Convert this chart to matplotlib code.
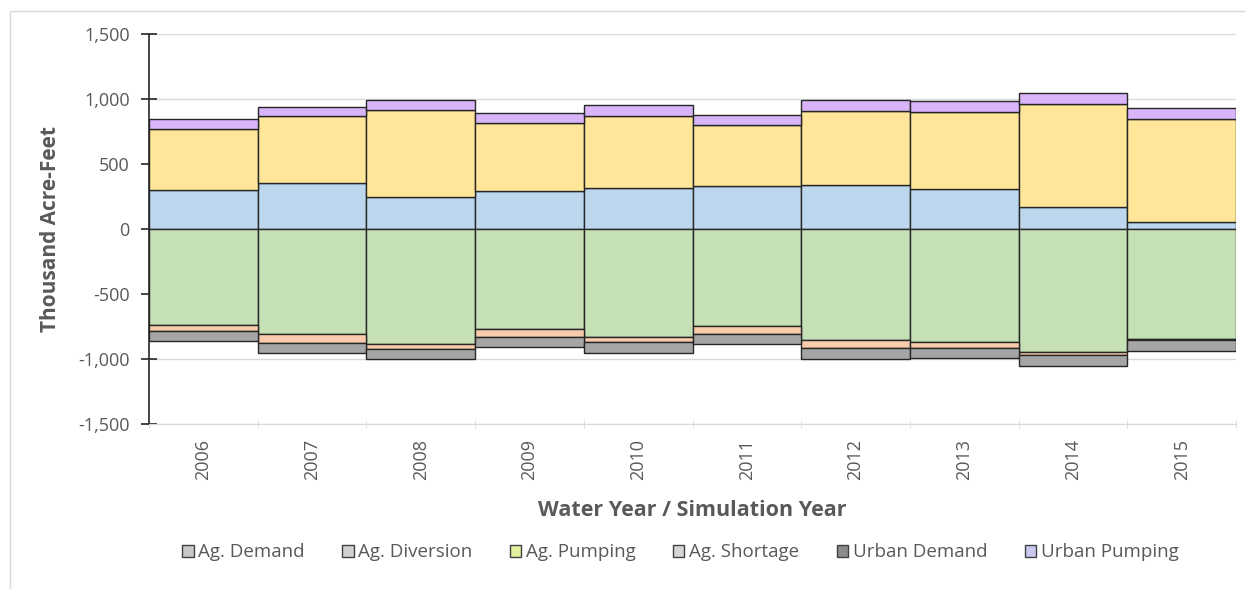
import numpy as np
import matplotlib.pyplot as plt
from matplotlib.patches import Patch, Rectangle
from matplotlib.ticker import FuncFormatter, MultipleLocator

plt.rcParams['font.family'] = ['Open Sans', 'DejaVu Sans']

years = ['2006', '2007', '2008', '2009', '2010', '2011', '2012', '2013', '2014', '2015']

# supply side (thousand acre-feet)
ag_diversion = np.array([302, 356, 246, 293, 315, 333, 336, 308, 167, 52])
ag_pumping = np.array([469, 511, 669, 525, 552, 467, 574, 592, 797, 799])
urban_pumping = np.array([75, 76, 77, 78, 87, 77, 85, 84, 84, 82])

# demand side, drawn below zero
ag_demand = np.array([736, 805, 887, 767, 831, 743, 856, 869, 949, 846])
ag_shortage = np.array([46, 72, 38, 61, 41, 62, 62, 47, 20, 6])
urban_demand = np.array([82, 74, 77, 77, 84, 82, 84, 78, 87, 88])

c_demand = '#c5e0b4'
c_diversion = '#bdd7ee'
c_pumping = '#ffe699'
c_shortage = '#f8cbad'
c_urban_demand = '#a5a5a5'
c_urban_pumping = '#d8b4f8'
edge = '#262626'
text_grey = '#595959'

fig = plt.figure(figsize=(12.46, 5.89), dpi=100)
ax = fig.add_axes([0.1196, 0.280, 0.8724, 0.662])

x = np.arange(len(years))
kw = dict(width=1.0, edgecolor=edge, linewidth=1.0, zorder=3)

ax.bar(x, ag_diversion, color=c_diversion, **kw)
ax.bar(x, ag_pumping, bottom=ag_diversion, color=c_pumping, **kw)
ax.bar(x, urban_pumping, bottom=ag_diversion + ag_pumping, color=c_urban_pumping, **kw)

ax.bar(x, -ag_demand, color=c_demand, **kw)
ax.bar(x, -ag_shortage, bottom=-ag_demand, color=c_shortage, **kw)
ax.bar(x, -urban_demand, bottom=-(ag_demand + ag_shortage), color=c_urban_demand, **kw)

ax.set_xlim(-0.5, len(years) - 0.5)
ax.set_ylim(-1500, 1500)
ax.yaxis.set_major_locator(MultipleLocator(500))
ax.yaxis.set_major_formatter(FuncFormatter(lambda v, p: f'{v:,.0f}'))
ax.grid(axis='y', color='#d9d9d9', linewidth=1.0, zorder=0)

ax.set_xticks(x)
ax.set_xticklabels(years, rotation=90)
ax.set_xticks(np.arange(len(years) + 1) - 0.5, minor=True)
ax.tick_params(axis='x', which='major', length=0, pad=11, labelsize=13, labelcolor=text_grey)
ax.tick_params(axis='x', which='minor', length=6, direction='inout', color='#d9d9d9')
ax.tick_params(axis='y', length=12, direction='inout', width=1.2, color='#262626',
               labelsize=13, labelcolor=text_grey, pad=8)

for side in ['top', 'right']:
    ax.spines[side].set_visible(False)
ax.spines['left'].set_color('#262626')
ax.spines['left'].set_linewidth(1.2)
ax.spines['bottom'].set_color('#d9d9d9')

ax.set_ylabel('Thousand Acre-Feet', fontsize=15, fontweight='bold', color=text_grey, labelpad=12)
ax.set_xlabel('Water Year / Simulation Year', fontsize=15.5, fontweight='bold', color=text_grey, labelpad=14)

handles = [
    Patch(facecolor='#c8c8c8', edgecolor='#404040', label='Ag. Demand'),
    Patch(facecolor='#d0d0d0', edgecolor='#404040', label='Ag. Diversion'),
    Patch(facecolor='#e4efa0', edgecolor='#404040', label='Ag. Pumping'),
    Patch(facecolor='#d6d6d6', edgecolor='#404040', label='Ag. Shortage'),
    Patch(facecolor='#8c8c8c', edgecolor='#404040', label='Urban Demand'),
    Patch(facecolor='#c8c8f0', edgecolor='#404040', label='Urban Pumping'),
]
fig.legend(handles=handles, loc='center', bbox_to_anchor=(0.546, 0.062), ncol=6,
           frameon=False, fontsize=13.5, labelcolor=text_grey, handlelength=0.6,
           handleheight=0.6, handletextpad=0.25, columnspacing=2.0)

# light chart-area border
fig.patches.append(Rectangle((0.008, -0.01), 0.995, 0.991, transform=fig.transFigure,
                             fill=False, edgecolor='#d9d9d9', linewidth=1.0))

fig.savefig('out.png', dpi=100)
